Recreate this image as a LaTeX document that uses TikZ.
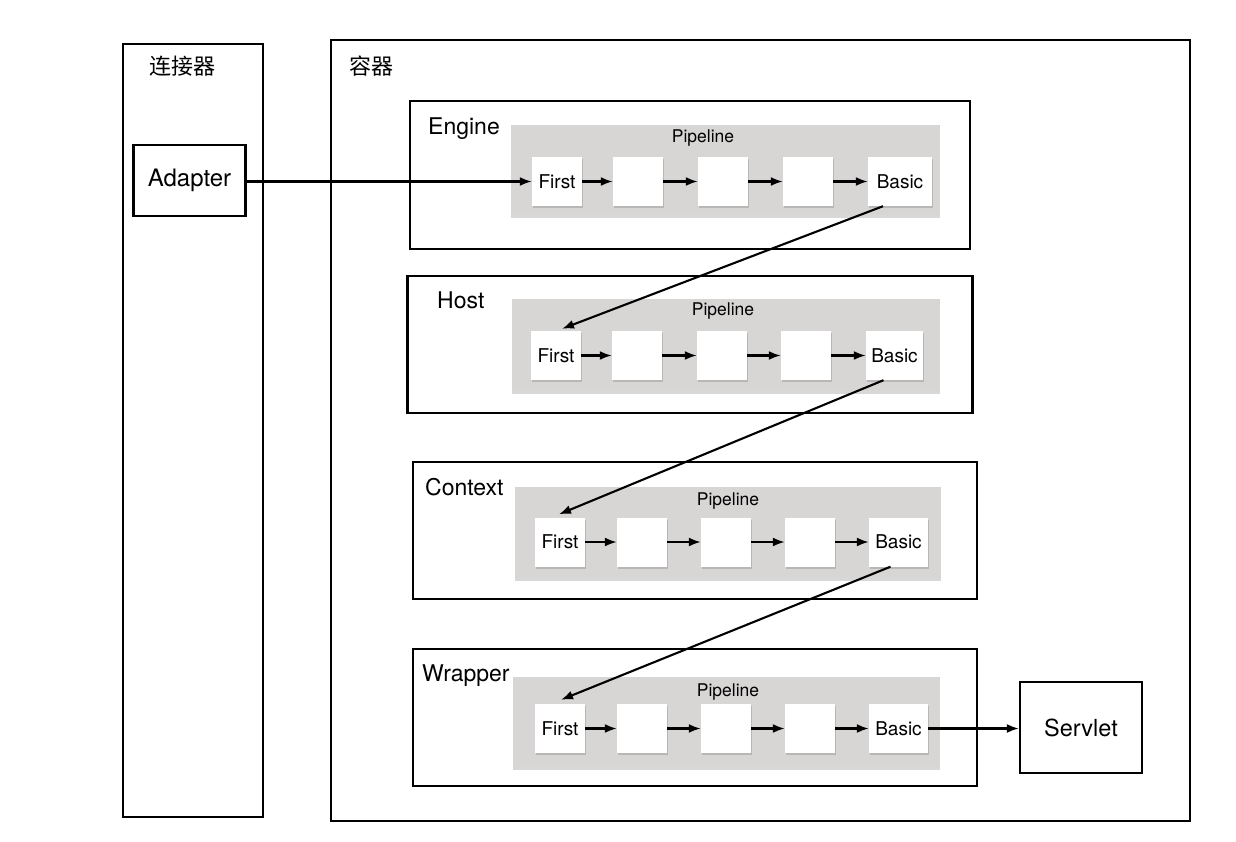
\documentclass[tikz,border=0pt]{standalone}
\usepackage{fontspec}
\setmainfont{TeX Gyre Heros}
\newfontfamily\cjk{Noto Sans CJK SC}
\usetikzlibrary{arrows.meta,shadows}

\definecolor{pipegray}{RGB}{216,213,213}

\tikzset{
  frame/.style={draw, line width=2.3pt, inner sep=0pt},
  pipe/.style={fill=pipegray, inner sep=0pt,
    drop shadow={shadow xshift=0pt, shadow yshift=-3pt, opacity=0.22, fill=black!70}},
  valve/.style={fill=white, inner sep=0pt, minimum width=50pt, minimum height=49pt,
    font=\fontsize{19}{21}\selectfont,
    drop shadow={shadow xshift=1pt, shadow yshift=-2pt, opacity=0.22, fill=black!70}},
  flow/.style={-{Latex[length=12pt,width=9pt]}, line width=2.1pt},
  title/.style={anchor=base west, inner sep=0pt, font=\fontsize{23}{25}\selectfont},
  pipetitle/.style={anchor=base, inner sep=0pt, font=\fontsize{17.5}{19}\selectfont},
}

\begin{document}
\begin{tikzpicture}[x=1pt, y=-1pt]
\useasboundingbox (0,0) rectangle (1236,842);

% connector and container
\node[frame, minimum width=140pt, minimum height=773pt] (conn) at (193,430.5) {};
\node[inner sep=0pt, font=\cjk\fontsize{22}{24}\selectfont] (conntitle) at (182,66) {连接器};
\node[frame, minimum width=859pt, minimum height=781pt] (cont) at (760.5,430.5) {};
\node[inner sep=0pt, font=\cjk\fontsize{22}{24}\selectfont] (conttitle) at (371,66) {容器};

\node[frame, minimum width=112pt, minimum height=71pt, font=\fontsize{24}{26}\selectfont] (adapter) at (189.5,180.5) {Adapter};
\node[frame, minimum width=122pt, minimum height=91pt, font=\fontsize{23.5}{26}\selectfont] (servlet) at (1081,727.5) {Servlet};

% Engine
\node[frame, minimum width=560pt, minimum height=148pt] (engine) at (690,175) {};
\node[title] (enginetitle) at (428,135) {Engine};
\node[pipe, minimum width=429pt, minimum height=90pt] (pipe1) at (725.5,170) {};
\node[pipetitle] (pipetitle1) at (703,143) {Pipeline};
\node[valve] (first1) at (557,181.5) {First};
\node[valve] (v11) at (638,181.5) {};
\node[valve] (v12) at (723,181.5) {};
\node[valve] (v13) at (808,181.5) {};
\node[valve, minimum width=64pt] (basic1) at (900,181.5) {Basic};

% Host
\node[frame, minimum width=565pt, minimum height=137pt] (host) at (690,344.5) {};
\node[title] (hosttitle) at (437,308) {Host};
\node[pipe, minimum width=428pt, minimum height=92pt] (pipe2) at (725.5,345) {};
\node[pipetitle] (pipetitle2) at (723,315) {Pipeline};
\node[valve] (first2) at (556,355.5) {First};
\node[valve] (v21) at (637,355.5) {};
\node[valve] (v22) at (722,355.5) {};
\node[valve] (v23) at (806,355.5) {};
\node[valve, minimum width=57pt] (basic2) at (894.5,355.5) {Basic};

% Context
\node[frame, minimum width=564pt, minimum height=137pt] (context) at (695,530.5) {};
\node[title] (contexttitle) at (425,495) {Context};
\node[pipe, minimum width=426pt, minimum height=91pt] (pipe3) at (728,532.5) {};
\node[pipetitle] (pipetitle3) at (728,505) {Pipeline};
\node[valve] (first3) at (560,542) {First};
\node[valve] (v31) at (642,542) {};
\node[valve] (v32) at (726,542) {};
\node[valve] (v33) at (810,542) {};
\node[valve, minimum width=59pt] (basic3) at (898.5,542) {Basic};

% Wrapper
\node[frame, minimum width=564pt, minimum height=137pt] (wrapper) at (695,717.5) {};
\node[title] (wrappertitle) at (422,681) {Wrapper};
\node[pipe, minimum width=427pt, minimum height=90pt] (pipe4) at (726.5,722) {};
\node[pipetitle] (pipetitle4) at (728,696) {Pipeline};
\node[valve] (first4) at (560,728.5) {First};
\node[valve] (v41) at (642,728.5) {};
\node[valve] (v42) at (726,728.5) {};
\node[valve] (v43) at (810,728.5) {};
\node[valve, minimum width=59pt] (basic4) at (898.5,728.5) {Basic};

% request path
\draw[flow] (adapter.east |- first1.west) -- (first1.west);

\draw[flow] (first1) -- (v11);
\draw[flow] (v11) -- (v12);
\draw[flow] (v12) -- (v13);
\draw[flow] (v13) -- (basic1);

\draw[flow] (first2) -- (v21);
\draw[flow] (v21) -- (v22);
\draw[flow] (v22) -- (v23);
\draw[flow] (v23) -- (basic2);

\draw[flow] (first3) -- (v31);
\draw[flow] (v31) -- (v32);
\draw[flow] (v32) -- (v33);
\draw[flow] (v33) -- (basic3);

\draw[flow] (first4) -- (v41);
\draw[flow] (v41) -- (v42);
\draw[flow] (v42) -- (v43);
\draw[flow] (v43) -- (basic4);

\draw[flow] ([xshift=-17pt]basic1.south) -- ([xshift=6pt,yshift=2pt]first2.north);
\draw[flow] ([xshift=-11pt]basic2.south) -- ([xshift=-1pt,yshift=3pt]first3.north);
\draw[flow] ([xshift=-8pt]basic3.south) -- ([xshift=1pt,yshift=4pt]first4.north);

\draw[flow] (basic4.east) -- (servlet.west |- basic4.east);
\end{tikzpicture}
\end{document}
